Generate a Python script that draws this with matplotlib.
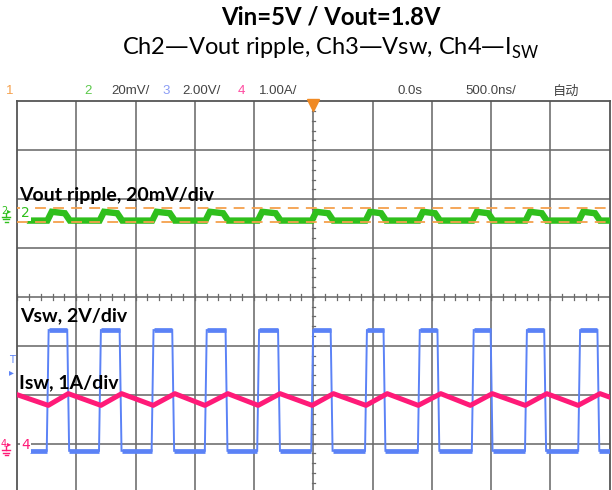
import numpy as np
import matplotlib
matplotlib.use("Agg")
import matplotlib.pyplot as plt
from matplotlib.lines import Line2D

# ---------------- scope settings ----------------
time_per_div_ns = 500.0
ch2_mv_per_div = 20.0
ch3_v_per_div = 2.0
ch4_a_per_div = 1.0
ch2_offset_div = 1.71       # ground marker of CH2 (divisions from centre)
ch34_offset_div = -3.04     # ground marker of CH3 / CH4

# ---------------- CH3: Vsw (switch node) ----------------
vsw_rise_ns = [-2241, -1800, -1356, -907, -465, -9, 445, 891, 1346, 1795, 2244]
vsw_fall_ns = [-2068, -1626, -1182, -732, -289, 155, 601, 1056, 1505, 1957, 2406]
vsw_high_v = 4.72
vsw_low_v = -0.22
trace_start_ns = -2390
trace_end_ns = 2500

# ---------------- CH4: Isw ----------------
isw_t_ns = [-2500, -2236, -2067, -1792, -1617, -1351, -1168, -915, -721, -465,
            -280, -9, 170, 445, 624, 886, 1076, 1326, 1511, 1789, 1971, 2235,
            2420, 2500]
isw_a = [1.04, 0.82, 1.06, 0.82, 1.06, 0.82, 1.06, 0.82, 1.06, 0.82,
         1.06, 0.82, 1.06, 0.82, 1.06, 0.82, 1.06, 0.82, 1.06, 0.82, 1.06, 0.82,
         1.06, 0.99]

# ---------------- CH2: Vout ripple ----------------
ripple_high_mv = [0.6, 0.0]     # start / end of the high plateau
ripple_low_mv = -3.0
cursor_mv = [2.0, -3.6]

# header texts
hdr_labels = ["1", "2", "20mV/", "3", "2.00V/", "4", "1.00A/", "0.0s", "500.0ns/", "自动"]

# ---------------- colours ----------------
C_GREEN = "#2fbf1c"
C_BLUE = "#5b82f6"
C_PINK = "#ff1a78"
C_ORANGE = "#f5a04c"
C_GRID = "#6a6a6a"

W, H = 612, 490
fig = plt.figure(figsize=(W / 100, H / 100), dpi=100)


def fx(x):
    return x / W


def fy(y):
    return 1 - y / H


# screen: 10 x 8 divisions
left_px, right_px, top_px, bot_px = 17.0, 609.5, 101.3, 492.4
ax = fig.add_axes([fx(left_px), fy(bot_px), (right_px - left_px) / W, (bot_px - top_px) / H])
ax.set_xlim(-5 * time_per_div_ns, 5 * time_per_div_ns)
ax.set_ylim(-4, 4)
ax.set_xticks([])
ax.set_yticks([])
for s in ["left", "right", "top"]:
    ax.spines[s].set_color("#555555")
    ax.spines[s].set_linewidth(1.3)
ax.spines["bottom"].set_visible(False)

# grid
for k in range(-4, 5):
    ax.axvline(k * time_per_div_ns, color=C_GRID, lw=1.15, zorder=1)
for k in range(-3, 4):
    ax.axhline(k, color=C_GRID, lw=1.15, zorder=1)
# centre-line minor ticks
for k in range(-25, 26):
    t = k * time_per_div_ns / 5
    ax.plot([t, t], [-0.06, 0.06], color=C_GRID, lw=0.9, zorder=1)
for k in range(-20, 21):
    yv = k / 5
    ax.plot([-14, 14], [yv, yv], color=C_GRID, lw=0.9, zorder=1)

# trigger marker
ax.plot([0], [3.93], marker="v", ms=8, color="#f08a24", clip_on=False, zorder=6)


def ch2(mv):
    return ch2_offset_div + np.asarray(mv, float) / ch2_mv_per_div


def ch3(v):
    return ch34_offset_div + np.asarray(v, float) / ch3_v_per_div


def ch4(a):
    return ch34_offset_div + np.asarray(a, float) / ch4_a_per_div


# ---- Vsw waveform from edge times ----
edge = 8
vt = [trace_start_ns]
vv = [vsw_low_v]
for r, f in zip(vsw_rise_ns, vsw_fall_ns):
    vt += [r - edge, r + edge, f - edge, f + edge]
    vv += [vsw_low_v, vsw_high_v, vsw_high_v, vsw_low_v]
vt.append(trace_end_ns)
vv.append(vsw_low_v)
vt = np.array(vt)
vy = ch3(vv)
ax.plot(vt, vy, color=C_BLUE, lw=1.4, zorder=3, solid_joinstyle="miter")
# thicker noisy plateaus
for i in range(0, len(vt) - 1, 2):
    ax.plot(vt[i:i + 2], vy[i:i + 2], color=C_BLUE, lw=3.4, zorder=3, solid_capstyle="butt")

# ---- Vout ripple ----
gt = [trace_start_ns]
gv = [ripple_low_mv]
for r, f in zip(vsw_rise_ns, vsw_fall_ns):
    gt += [r - 3, r + 34, f - 28, f + 14]
    gv += [ripple_low_mv, ripple_high_mv[0], ripple_high_mv[1], ripple_low_mv]
gt.append(trace_end_ns)
gv.append(ripple_low_mv)
ax.plot(gt, ch2(gv), color=C_GREEN, lw=4.6, zorder=4, solid_joinstyle="miter")

# cursors
for c in cursor_mv:
    ax.axhline(ch2(c), color=C_ORANGE, lw=1.3, ls=(0, (6, 4)), zorder=5)

# ---- Isw ----
ax.plot(isw_t_ns, ch4(isw_a), color=C_PINK, lw=3.6, zorder=5)

# ---- channel markers inside screen ----
ax.text(-2465, ch2_offset_div, "2", color=C_GREEN, fontsize=10, va="center", ha="left",
        family="DejaVu Sans", zorder=7,
        bbox=dict(facecolor="white", edgecolor="none", pad=0.5))
ax.text(-2465, ch34_offset_div, "4", color=C_PINK, fontsize=10, va="center", ha="left",
        family="DejaVu Sans", zorder=7,
        bbox=dict(facecolor="white", edgecolor="none", pad=0.5))

# ---- left-side markers (outside screen) ----
def ground(x, y, color):
    lines = [([x, x], [y, y + 4]), ([x - 4, x + 4], [y + 4, y + 4]),
             ([x - 3, x + 3], [y + 6.5, y + 6.5]), ([x - 1.5, x + 1.5], [y + 9, y + 9])]
    for xs, ys in lines:
        fig.add_artist(Line2D([fx(v) for v in xs], [fy(v) for v in ys], color=color, lw=1.0))


fig.text(fx(1), fy(211), "2", color=C_GREEN, fontsize=7, va="center", ha="left")
fig.text(fx(7), fy(211), "▸", color=C_GREEN, fontsize=6, va="center", ha="left")
ground(6, 213, C_GREEN)
fig.text(fx(1), fy(444), "4", color=C_PINK, fontsize=7, va="center", ha="left")
fig.text(fx(7), fy(444), "▸", color=C_PINK, fontsize=6, va="center", ha="left")
ground(6, 446, C_PINK)
fig.text(fx(9), fy(360), "T", color=C_BLUE, fontsize=7, va="center", ha="left")
fig.text(fx(9), fy(372), "▸", color=C_BLUE, fontsize=7, va="center", ha="left")

# ---- header ----
hdr_x = [6, 84, 111, 162, 182, 238, 259, 398, 465, 553]
hdr_c = [C_ORANGE, "#5bc94a", "#444444", "#8a9cf5", "#444444", "#ff4aa0", "#444444",
         "#444444", "#444444", "#444444"]
for s, x, c in zip(hdr_labels, hdr_x, hdr_c):
    fam = ["Noto Sans CJK SC", "DejaVu Sans"] if s == "自动" else ["Liberation Sans"]
    fig.text(fx(x), fy(91.5), s, color=c, fontsize=9.5, va="center", ha="left", family=fam)

# ---- annotations ----
ann = dict(fontsize=14, fontweight="bold", color="black", va="center", ha="left",
           family="Lato", zorder=8)
fig.text(fx(19), fy(195), "Vout ripple, 20mV/div", **ann)
fig.text(fx(20), fy(316), "Vsw, 2V/div", **ann)
fig.text(fx(19), fy(383), "Isw, 1A/div", **ann)

# ---- title ----
fig.text(fx(331), fy(17), "Vin=5V / Vout=1.8V", fontsize=17.2, fontweight="bold",
         ha="center", va="center", family="Lato")
fig.text(fx(331), fy(48), r"Ch2—Vout ripple, Ch3—Vsw, Ch4—I$_\mathregular{SW}$", fontsize=17,
         ha="center", va="center", family="Lato")

fig.savefig("out.png", dpi=100)
